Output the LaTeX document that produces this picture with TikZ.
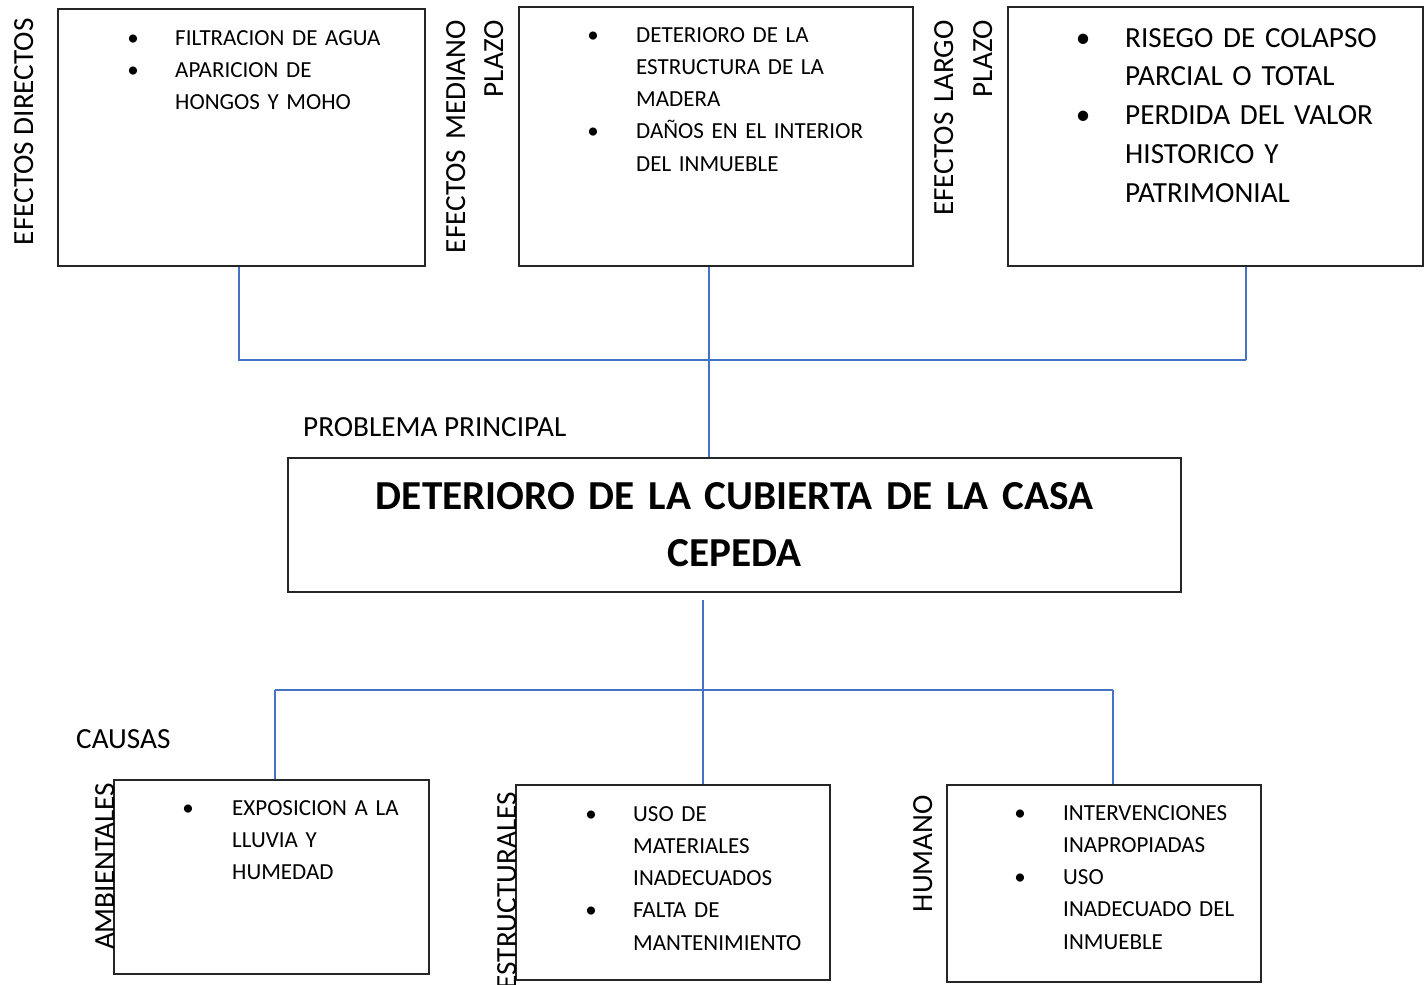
\documentclass[tikz,border=0pt]{standalone}
\usepackage{fontspec}
\setmainfont{Carlito}
\definecolor{blueconn}{HTML}{4472C4}
\newcommand\smallf{\fontsize{23}{32.3}\selectfont}
\newcommand\bigf{\fontsize{29.2}{38.8}\selectfont}
\newcommand\labf{\fontsize{29.2}{38.5}\selectfont}
\newcommand\titlef{\fontsize{41.2}{57}\selectfont\bfseries}
\newcommand\bulx[1][42]{\makebox[0pt]{\textbullet}\hspace*{#1pt}\ignorespaces}
\newcommand\indx[1][42]{\hspace*{#1pt}\ignorespaces}
\begin{document}
\begin{tikzpicture}[x=1pt,y=-1pt,
  box/.style={draw=black!85, line width=1.3pt, inner sep=0pt},
  conn/.style={draw=blueconn, line width=1.2pt},
  lst/.style={anchor=base west, inner sep=0pt, text width=#1, align=left},
  vlab/.style={rotate=90, anchor=base east, inner sep=0pt, font=\labf},
  hlab/.style={anchor=base west, inner sep=0pt, font=\labf}]
\useasboundingbox (0,0) rectangle (1427,985);
\fill[white] (0,0) rectangle (1427,985);
% effect boxes
\node[box, minimum width=367, minimum height=257] (b1) at (241.5,137.5) {};
\node[box, minimum width=394, minimum height=259] (b2) at (716,136.5) {};
\node[box, minimum width=415, minimum height=259] (b3) at (1215.5,136.5) {};
% main problem
\node[box, minimum width=893, minimum height=134, text width=880, align=center, font=\titlef] (pm) at (734.5,525) {DETERIORO DE LA CUBIERTA DE LA CASA\\CEPEDA};
% cause boxes
\node[box, minimum width=315, minimum height=194] (c1) at (271.5,877) {};
\node[box, minimum width=314, minimum height=195] (c2) at (673,882.5) {};
\node[box, minimum width=314, minimum height=197] (c3) at (1104,883.5) {};
% connectors
\coordinate (j1) at (239,360);
\coordinate (j2) at (709,360);
\coordinate (j3) at (1246,360);
\draw[conn] (b1.south -| j1) -- (j1) -- (j3);
\draw[conn] (b3.south -| j3) -- (j3);
\draw[conn] (b2.south -| j2) -- (pm.north -| j2);
\coordinate (k0) at (703,600);
\coordinate (k1) at (275,690);
\coordinate (k3) at (1113,690);
\draw[conn] (k0) -- (c2.north -| k0);
\draw[conn] (k1) -- (k3);
\draw[conn] (k1) -- (c1.north -| k1);
\draw[conn] (k3) -- (c3.north -| k3);
% box texts
\node[lst=330, font=\smallf] (t1) at (133,45) {\bulx FILTRACION DE AGUA\\\bulx APARICION DE\\\indx HONGOS Y MOHO};
\node[lst=330, font=\smallf] (t2) at (593,42) {\bulx[43] DETERIORO DE LA\\\indx[43] ESTRUCTURA DE LA\\\indx[43] MADERA\\\bulx[43] DAÑOS EN EL INTERIOR\\\indx[43] DEL INMUEBLE};
\node[lst=340, font=\bigf] (t3) at (1083,47) {\bulx RISEGO DE COLAPSO\\\indx PARCIAL O TOTAL\\\bulx PERDIDA DEL VALOR\\\indx HISTORICO Y\\\indx PATRIMONIAL};
\node[lst=330, font=\smallf] (t4) at (188,815) {\bulx[44] EXPOSICION A LA\\\indx[44] LLUVIA Y\\\indx[44] HUMEDAD};
\node[lst=330, font=\smallf] (t5) at (591,821) {\bulx USO DE\\\indx MATERIALES\\\indx INADECUADOS\\\bulx FALTA DE\\\indx MANTENIMIENTO};
\node[lst=330, font=\smallf] (t6) at (1020,820) {\bulx[43] INTERVENCIONES\\\indx[43] INAPROPIADAS\\\bulx[43] USO\\\indx[43] INADECUADO DEL\\\indx[43] INMUEBLE};
% labels
\node[vlab] (l1) at (33,18) {EFECTOS DIRECTOS};
\node[vlab, text width=260, align=right, font=\fontsize{29.2}{38}\selectfont] (l2) at (465,20) {EFECTOS MEDIANO\\PLAZO};
\node[vlab, text width=260, align=right, font=\fontsize{29.2}{39}\selectfont] (l3) at (953,20) {EFECTOS LARGO\\PLAZO};
\node[vlab] (l4) at (114,783) {AMBIENTALES};
\node[vlab] (l5) at (516,792) {ESTRUCTURALES};
\node[vlab] (l6) at (932,795) {HUMANO};
\node[hlab] (pp) at (303,436) {PROBLEMA PRINCIPAL};
\node[hlab] (ca) at (76,748) {CAUSAS};
\end{tikzpicture}
\end{document}
